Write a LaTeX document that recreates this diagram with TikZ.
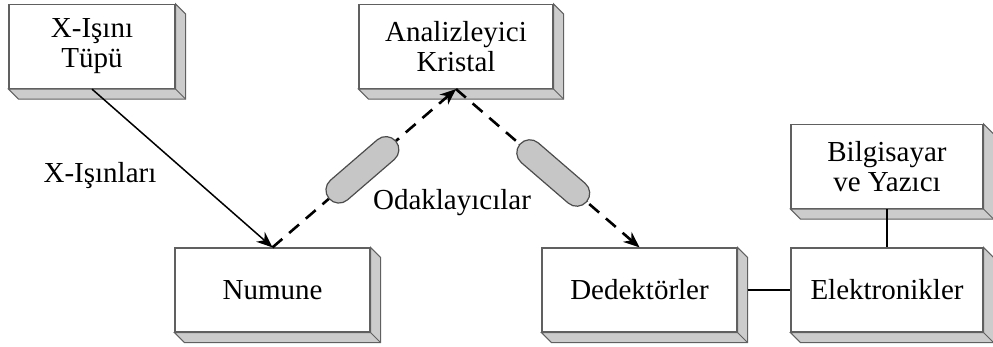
\documentclass[tikz,border=0pt]{standalone}
\usepackage{fontspec}
\setmainfont{Liberation Serif}
\usetikzlibrary{arrows.meta}

\tikzset{
    kutu/.style={draw=gray!75!black, line width=0.6pt, fill=white, inner sep=0pt,
        minimum height=42pt, align=center, font=\rmfamily\fontsize{14.5}{15}\selectfont},
    golge/.style={draw=gray!75!black, line width=0.5pt, fill=gray!40},
    mercek/.style={draw=gray!60!black, solid, line width=0.6pt, fill=gray!45,
        minimum width=44pt, minimum height=13pt, rounded corners=6.5pt, inner sep=0pt},
    ok/.style={-{Stealth[length=8pt,width=6.5pt]}},
    isin/.style={ok, line width=1.3pt, dash pattern=on 6.5pt off 4.5pt},
    yazi/.style={font=\rmfamily\fontsize{14.5}{15}\selectfont}
}

\begin{document}
\begin{tikzpicture}[x=0.5pt, y=-0.5pt]
    \useasboundingbox (0,0) rectangle (993,347);

    \node[kutu, minimum width=83pt] (tup) at (92,46.5) {X-Işını\\Tüpü};
    \node[kutu, minimum width=97pt] (kristal) at (456,46.5) {Analizleyici\\Kristal};
    \node[kutu, minimum width=97.5pt] (numune) at (272.5,290) {Numune};
    \node[kutu, minimum width=97.5pt] (dedektor) at (639.5,290) {Dedektörler};
    \node[kutu, minimum width=96pt] (bilgisayar) at (887,166.5) {Bilgisayar\\ve Yazıcı};
    \node[kutu, minimum width=96pt] (elektronik) at (887,290) {Elektronikler};

    % yan ve alt yuzler
    \foreach \k in {tup,kristal,numune,dedektor,bilgisayar,elektronik}{
        \filldraw[golge] (\k.north east) -- ++(10,10) -- ([shift={(10,10)}]\k.south east)
            -- ([shift={(10,10)}]\k.south west) -- (\k.south west) -- (\k.south east) -- cycle;
        \draw[golge] (\k.south east) -- ++(10,10);
    }

    \draw[ok, line width=0.75pt] (tup.south) -- (numune.north);
    \draw[isin] (numune.north) -- node[mercek, sloped, pos=.49] (mercek1) {} (kristal.south);
    \draw[isin] (kristal.south) -- node[mercek, sloped, pos=.53] (mercek2) {} (dedektor.north);
    \draw[line width=0.75pt, shorten <=5pt] (dedektor.east) -- (elektronik.west);
    \draw[line width=0.75pt] (bilgisayar.south) -- (elektronik.north);

    \node[yazi] (xisin) at (100,176) {X-Işınları};
    \node[yazi, anchor=base] (odak) at (452,210) {Odaklayıcılar};
\end{tikzpicture}
\end{document}
